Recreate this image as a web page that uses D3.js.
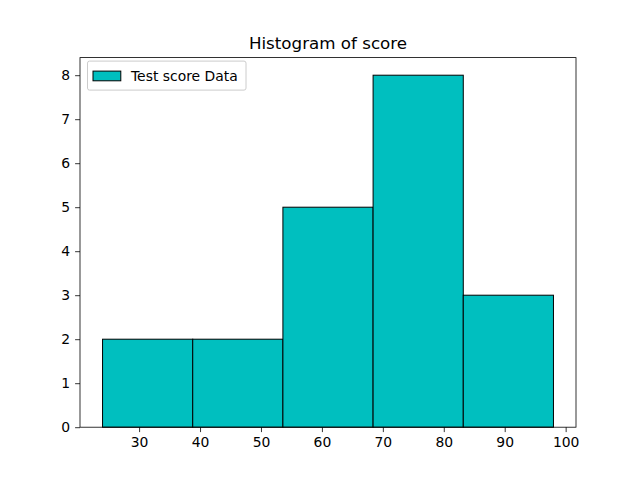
<!DOCTYPE html>
<html>
<head>
<meta charset="utf-8">
<script src="https://cdn.jsdelivr.net/npm/d3@7"></script>
<style>
  html, body { margin: 0; padding: 0; background: #fff; }
  svg { display: block; }
  text { font-family: "DejaVu Sans", sans-serif; }
</style>
</head>
<body>
<div id="chart"></div>
<script>
// histogram bins (edges) and counts
const binEdges = [24, 38.8, 53.6, 68.4, 83.2, 98];
const binCounts = [2, 2, 5, 8, 3];
const xTicks = [30, 40, 50, 60, 70, 80, 90, 100];
const yTicks = [0, 1, 2, 3, 4, 5, 6, 7, 8];
const chartTitle = 'Histogram of score';
const seriesLabel = 'Test score Data';

const W = 640, H = 480;
const m = { left: 80, right: 64, top: 57.6, bottom: 52.8 };
const fs = 13.9; // 10pt at 100dpi

const svg = d3.select('#chart').append('svg')
  .attr('width', W).attr('height', H);

const lo = binEdges[0], hi = binEdges[binEdges.length - 1];
const pad = (hi - lo) * 0.05;
const x = d3.scaleLinear().domain([lo - pad, hi + pad]).range([m.left, W - m.right]);
const y = d3.scaleLinear().domain([0, d3.max(binCounts) * 1.05]).range([H - m.bottom, m.top]);

const bins = binCounts.map((c, i) => ({ x0: binEdges[i], x1: binEdges[i + 1], n: c }));

svg.append('g').selectAll('rect').data(bins).join('rect')
  .attr('x', d => x(d.x0))
  .attr('y', d => y(d.n))
  .attr('width', d => x(d.x1) - x(d.x0))
  .attr('height', d => y(0) - y(d.n))
  .attr('fill', '#00bfbf')
  .attr('stroke', '#000')
  .attr('stroke-width', 1);

// axes
const xAxis = svg.append('g')
  .attr('transform', `translate(0,${H - m.bottom})`)
  .call(d3.axisBottom(x).tickValues(xTicks).tickSize(4.9).tickPadding(4.9));
const yAxis = svg.append('g')
  .attr('transform', `translate(${m.left},0)`)
  .call(d3.axisLeft(y).tickValues(yTicks).tickSize(4.9).tickPadding(4.9));

[xAxis, yAxis].forEach(a => {
  a.select('.domain').remove();
  a.selectAll('text').attr('font-size', fs).attr('fill', '#000')
    .attr('font-family', '"DejaVu Sans", sans-serif');
  a.selectAll('line').attr('stroke', '#000').attr('stroke-width', 0.8);
});

// frame
svg.append('rect')
  .attr('x', m.left).attr('y', m.top)
  .attr('width', W - m.left - m.right).attr('height', H - m.top - m.bottom)
  .attr('fill', 'none').attr('stroke', '#000').attr('stroke-width', 0.8);

svg.append('text')
  .attr('x', (m.left + W - m.right) / 2).attr('y', m.top - 8.3)
  .attr('text-anchor', 'middle').attr('font-size', 16.7)
  .text(chartTitle);

// legend
const lg = svg.append('g').attr('transform', `translate(${m.left + 7.5},${m.top + 3.5})`);
lg.append('rect').attr('x', 0).attr('y', 0).attr('width', 158.5).attr('height', 29)
  .attr('rx', 2).attr('fill', '#fff').attr('fill-opacity', 0.8)
  .attr('stroke', '#ccc').attr('stroke-width', 1);
lg.append('rect').attr('x', 5.5).attr('y', 10).attr('width', 27.8).attr('height', 9.7)
  .attr('fill', '#00bfbf').attr('stroke', '#000').attr('stroke-width', 1);
lg.append('text').attr('x', 43.5).attr('y', 19.8).attr('font-size', fs).text(seriesLabel);
</script>
</body>
</html>
